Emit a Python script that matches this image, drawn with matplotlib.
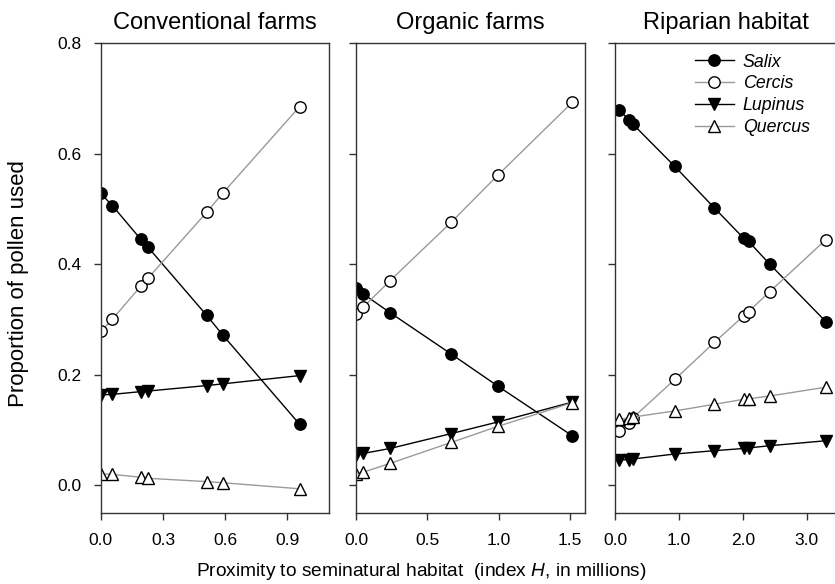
import matplotlib
matplotlib.use("Agg")
import matplotlib.pyplot as plt
from matplotlib.ticker import FormatStrFormatter

plt.rcParams["font.family"] = ["Liberation Sans", "DejaVu Sans"]
plt.rcParams["mathtext.fontset"] = "custom"
plt.rcParams["mathtext.it"] = "Liberation Sans:italic"
plt.rcParams["mathtext.rm"] = "Liberation Sans"

# panel titles and ticks
titles = ["Conventional farms", "Organic farms", "Riparian habitat"]
xlims = [(0, 1.1), (0, 1.605), (0, 3.46)]
xticks = [[0.0, 0.3, 0.6, 0.9], [0.0, 0.5, 1.0, 1.5], [0.0, 1.0, 2.0, 3.0]]
yticks = [0.0, 0.2, 0.4, 0.6, 0.8]

# conventional farms
conv_x = [0.0, 0.056, 0.193, 0.227, 0.511, 0.587, 0.958]
conv_salix = [0.528, 0.506, 0.445, 0.431, 0.307, 0.272, 0.110]
conv_cercis = [0.278, 0.300, 0.360, 0.374, 0.494, 0.528, 0.685]
conv_lupinus = [0.163, 0.164, 0.169, 0.170, 0.180, 0.183, 0.198]
conv_quercus = [0.020, 0.019, 0.014, 0.012, 0.006, 0.004, -0.007]

# organic farms
org_x = [0.0, 0.051, 0.239, 0.668, 0.994, 1.516]
org_salix = [0.356, 0.346, 0.312, 0.237, 0.179, 0.089]
org_cercis = [0.309, 0.322, 0.370, 0.476, 0.561, 0.693]
org_lupinus = [0.055, 0.057, 0.066, 0.093, 0.114, 0.150]
org_quercus = [0.020, 0.023, 0.039, 0.077, 0.106, 0.149]

# riparian habitat
rip_x = [0.057, 0.215, 0.278, 0.93, 1.55, 2.01, 2.09, 2.42, 3.30]
rip_salix = [0.679, 0.661, 0.653, 0.577, 0.502, 0.447, 0.441, 0.400, 0.296]
rip_cercis = [0.098, 0.113, 0.122, 0.191, 0.258, 0.306, 0.314, 0.350, 0.444]
rip_lupinus = [0.045, 0.046, 0.047, 0.056, 0.062, 0.066, 0.067, 0.071, 0.080]
rip_quercus = [0.119, 0.121, 0.123, 0.134, 0.146, 0.155, 0.156, 0.161, 0.177]

panels = [
    (conv_x, [conv_salix, conv_cercis, conv_lupinus, conv_quercus]),
    (org_x, [org_salix, org_cercis, org_lupinus, org_quercus]),
    (rip_x, [rip_salix, rip_cercis, rip_lupinus, rip_quercus]),
]

species = ["Salix", "Cercis", "Lupinus", "Quercus"]
styles = [
    dict(color="black", marker="o", mfc="black", ms=8.2),
    dict(color="#9a9a9a", marker="o", mfc="white", ms=8.2),
    dict(color="black", marker="v", mfc="black", ms=8.8),
    dict(color="#9a9a9a", marker="^", mfc="white", ms=8.8),
]

fig = plt.figure(figsize=(8.35, 5.84), dpi=100)
positions = [
    [0.1206, 0.1224, 0.2734, 0.8035],
    [0.4263, 0.1224, 0.2743, 0.8035],
    [0.7371, 0.1224, 0.2640, 0.8035],
]

axes = []
for i, (x, series) in enumerate(panels):
    ax = fig.add_axes(positions[i])
    for name, y, st in zip(species, series, styles):
        ax.plot(x, y, lw=1.0, mec="black", mew=1.0, label=name, **st)
    ax.set_xlim(*xlims[i])
    ax.set_ylim(-0.05, 0.8)
    ax.set_xticks(xticks[i])
    ax.set_yticks(yticks)
    ax.xaxis.set_major_formatter(FormatStrFormatter("%.1f"))
    ax.yaxis.set_major_formatter(FormatStrFormatter("%.1f"))
    ax.tick_params(direction="out", length=5, width=1.0, color="#333333",
                   labelsize=12.5)
    ax.tick_params(axis="x", pad=9.5)
    ax.tick_params(axis="y", pad=8.5)
    if i > 0:
        ax.tick_params(labelleft=False)
    for sp in ax.spines.values():
        sp.set_linewidth(1.0)
        sp.set_color("#333333")
    ax.set_title(titles[i], fontsize=17, pad=10)
    axes.append(ax)

# right edge of the last panel is cut off in the original
axes[2].spines["right"].set_visible(False)

leg = axes[2].legend(loc="upper left", bbox_to_anchor=(0.36, 0.978),
                     frameon=False, borderpad=0, borderaxespad=0,
                     labelspacing=0.27, handlelength=2.2, handletextpad=0.5,
                     prop={"style": "italic", "size": 12.8})

fig.text(0.505, 0.022, "Proximity to seminatural habitat  (index $\\it{H}$, in millions)",
         ha="center", va="center", fontsize=13.8)
fig.text(0.022, 0.515, "Proportion of pollen used", rotation=90,
         ha="center", va="center", fontsize=16)

fig.savefig("out.png", dpi=100)
